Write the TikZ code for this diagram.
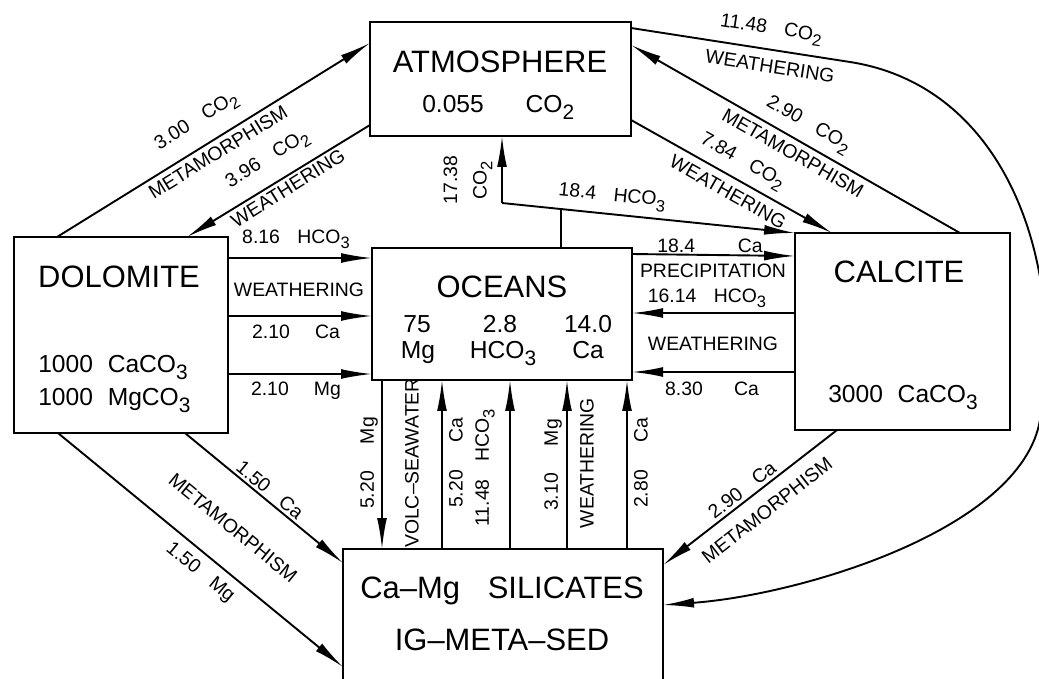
\documentclass[tikz,border=0pt]{standalone}
\usepackage{fontspec}
\setmainfont{Liberation Sans}
\usepackage{graphicx}
\usetikzlibrary{arrows.meta,calc}
\newcommand{\mysub}[1]{\raisebox{-0.55ex}{\scalebox{0.85}{#1}}}
\newcommand{\gap}{\hspace{0.9em}}
\begin{document}
\begin{tikzpicture}[x=0.025cm,y=-0.025cm,
  box/.style={draw,line width=2pt,inner sep=0pt,outer sep=0pt},
  conn/.style={line width=1.35pt},
  arr/.style={conn,-{Latex[length=22pt,width=7pt]}},
  big/.style={font=\fontsize{22}{24}\selectfont,inner sep=0pt},
  mid/.style={font=\fontsize{17.5}{20}\selectfont,inner sep=0pt},
  lbl/.style={font=\fontsize{13.8}{16}\selectfont,inner sep=0pt},
]
\useasboundingbox (0,0) rectangle (1039,678);
\clip (0,0) rectangle (1039,678);

% boxes
\node[box,anchor=north west,minimum width=6.525cm,minimum height=2.85cm] (atm) at (370,22) {};
\node[box,anchor=north west,minimum width=5.35cm,minimum height=4.9cm] (dol) at (14,237) {};
\node[box,anchor=north west,minimum width=6.5cm,minimum height=3.3cm] (oc) at (372,248) {};
\node[box,anchor=north west,minimum width=5.375cm,minimum height=4.925cm] (cal) at (795,233) {};
\node[box,anchor=north west,minimum width=8cm,minimum height=3.775cm] (sil) at (343,549) {};

% box texts
\node[big,anchor=base] (atmT) at (500,72) {ATMOSPHERE};
\node[mid,anchor=base west] (atmA) at (422,112) {0.055\hspace{1.7em}CO\mysub{2}};
\node[big,anchor=base] (dolT) at (119,287) {DOLOMITE};
\node[mid,anchor=base west] (dolA) at (38,372) {1000\hspace{0.6em}CaCO\mysub{3}};
\node[mid,anchor=base west] (dolB) at (38,405) {1000\hspace{0.6em}MgCO\mysub{3}};
\node[big,anchor=base] (ocT) at (502,297) {OCEANS};
\node[mid,anchor=base] (oc1) at (417,332) {75};
\node[mid,anchor=base] (oc2) at (500,332) {2.8};
\node[mid,anchor=base] (oc3) at (588,332) {14.0};
\node[mid,anchor=base] (oc4) at (418,358) {Mg};
\node[mid,anchor=base] (oc5) at (503,358) {HCO\mysub{3}};
\node[mid,anchor=base] (oc6) at (588,358) {Ca};
\node[big,anchor=base] (calT) at (899,282) {CALCITE};
\node[mid,anchor=base] (calA) at (903,402) {3000\hspace{0.6em}CaCO\mysub{3}};
\node[big,anchor=base] (silT) at (502,598) {Ca--Mg\hspace{0.9em}SILICATES};
\node[big,anchor=base] (silB) at (502,650) {IG--META--SED};

% dolomite <-> atmosphere
\draw[arr] ($(dol.north west)+(43,0)$) -- ($(atm.north west)+(0,21)$);
\draw[arr] ($(atm.north west)+(0,103)$) -- ($(dol.north west)+(173,0)$);
\node[lbl,rotate=31.8] (l1) at (197,122) {3.00\gap CO\mysub{2}};
\node[lbl,rotate=31.8] (l2) at (218,152) {METAMORPHISM};
\node[lbl,rotate=32] (l3) at (268,160) {3.96\gap CO\mysub{2}};
\node[lbl,rotate=32] (l4) at (288,188) {WEATHERING};

% dolomite -> oceans
\draw[arr] ($(dol.north east)+(0,21)$) -- ($(oc.north west)+(0,10)$);
\draw[arr] ($(dol.north east)+(0,79)$) -- ($(oc.north west)+(0,68)$);
\draw[arr] ($(dol.north east)+(0,137)$) -- ($(oc.north west)+(0,126)$);
\node[lbl,anchor=base] (l5) at (296,243) {8.16\gap HCO\mysub{3}};
\node[lbl,anchor=base] (l6) at (299,296) {WEATHERING};
\node[lbl,anchor=base] (l7) at (296,338) {2.10\gap\hspace{0.4em}Ca};
\node[lbl,anchor=base] (l8) at (296,395) {2.10\gap\hspace{0.4em}Mg};

% oceans -> atmosphere / calcite
\coordinate (jl) at (502,203);
\coordinate (jm) at ($(jl)!0.2!(cal.north west)$);
\draw[conn] (jm) -- (jm |- oc.north);
\draw[arr] (jl) -- (jl |- atm.south);
\draw[arr] (jl) -- (cal.north west);
\node[lbl,rotate=90,align=center,font=\fontsize{13.8}{21}\selectfont] (l9) at (468,180) {17.38\\CO\mysub{2}};
\node[lbl,rotate=-5.9] (l10) at (612,197) {18.4\gap HCO\mysub{3}};

% oceans <-> calcite
\draw[arr] ($(oc.north east)+(0,6)$) -- ($(cal.north west)+(0,23)$);
\draw[arr] ($(cal.north west)+(0,80)$) -- ($(oc.north east)+(0,65)$);
\draw[arr] ($(cal.north west)+(0,139)$) -- ($(oc.north east)+(0,124)$);
\node[lbl,anchor=base] (l17) at (710,252) {18.4\hspace{2.2em}Ca};
\node[lbl,anchor=base] (l18) at (713,277) {PRECIPITATION};
\node[lbl,anchor=base] (l19) at (707,302) {16.14\gap HCO\mysub{3}};
\node[lbl,anchor=base] (l20) at (713,350) {WEATHERING};
\node[lbl,anchor=base] (l21) at (712,395) {8.30\hspace{1.6em}Ca};

% atmosphere <-> calcite
\draw[arr] ($(atm.north east)+(0,98)$) -- ($(cal.north west)+(37,0)$);
\draw[arr] ($(cal.north west)+(165,0)$) -- ($(atm.north east)+(0,23)$);
\node[lbl,rotate=-29.8] (l13) at (808,125) {2.90\gap CO\mysub{2}};
\node[lbl,rotate=-29.8] (l14) at (793,153) {METAMORPHISM};
\node[lbl,rotate=-29.5] (l15) at (742,162) {7.84\gap CO\mysub{2}};
\node[lbl,rotate=-29.5] (l16) at (728,192) {WEATHERING};

% atmosphere -> silicates (long curve)
\coordinate (k1) at (850,62);
\coordinate (k2) at (1010,87);
\coordinate (k3) at (1066,270);
\coordinate (k4) at (1040,420);
\coordinate (k5) at (1021,530);
\coordinate (k6) at (800,595);
\draw[arr] ($(atm.north east)+(0,6)$) -- (k1) .. controls (k2) and (k3) .. (k4)
  .. controls (k5) and (k6) .. ($(sil.north east)+(0,56)$);
\node[lbl,rotate=-8.7] (l11) at (771,30) {11.48\gap CO\mysub{2}};
\node[lbl,rotate=-8.7] (l12) at (770,66) {WEATHERING};

% dolomite -> silicates
\draw[arr] ($(dol.south west)+(171,0)$) -- ($(sil.north west)+(0,14)$);
\draw[arr] ($(dol.south west)+(44,0)$) -- ($(sil.north west)+(0,118)$);
\node[lbl,rotate=-39.4] (l22) at (270,490) {1.50\gap Ca};
\node[lbl,rotate=-39.4] (l23) at (233,528) {METAMORPHISM};
\node[lbl,rotate=-39.4] (l24) at (200,573) {1.50\gap Mg};

% calcite -> silicates
\draw[arr] ($(cal.south west)+(42,0)$) -- ($(sil.north east)+(0,16)$);
\node[lbl,rotate=38.1] (l25) at (742,490) {2.90\gap Ca};
\node[lbl,rotate=38.1] (l26) at (767,510) {METAMORPHISM};

% oceans <-> silicates
\draw[arr] ($(oc.south west)+(10,0)$) -- ($(sil.north west)+(39,0)$);
\draw[arr] ($(sil.north west)+(99,0)$) -- ($(oc.south west)+(70,0)$);
\draw[arr] ($(sil.north west)+(167,0)$) -- ($(oc.south west)+(138,0)$);
\draw[arr] ($(sil.north west)+(224,0)$) -- ($(oc.south west)+(195,0)$);
\draw[arr] ($(sil.north west)+(284,0)$) -- ($(oc.south west)+(255,0)$);
\node[lbl,rotate=90] (l27) at (369,463) {5.20\hspace{1.4em}Mg};
\node[lbl,rotate=90] (l28) at (412,463) {VOLC--SEAWATER};
\node[lbl,rotate=90] (l29) at (456,463) {5.20\hspace{1.4em}Ca};
\node[lbl,rotate=90] (l30) at (485,468) {11.48\gap HCO\mysub{3}};
\node[lbl,rotate=90] (l31) at (553,465) {3.10\hspace{1.4em}Mg};
\node[lbl,rotate=90] (l32) at (587,463) {WEATHERING};
\node[lbl,rotate=90] (l33) at (641,463) {2.80\hspace{1.4em}Ca};
\end{tikzpicture}
\end{document}
